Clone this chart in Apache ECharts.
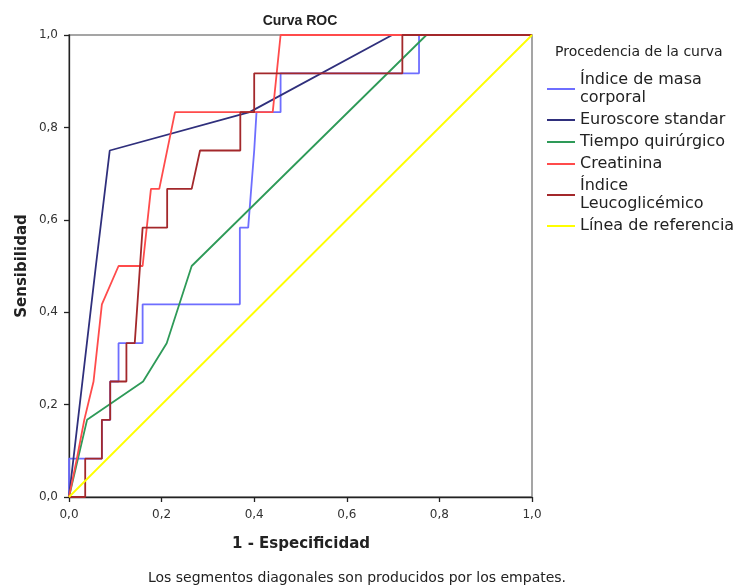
<!DOCTYPE html>
<html>
<head>
<meta charset="utf-8">
<script src="https://cdn.jsdelivr.net/npm/echarts@6/dist/echarts.min.js"></script>
<style>
html,body{margin:0;padding:0;background:#fff;}
#chart{width:738px;height:587px;}
</style>
</head>
<body>
<div id="chart"></div>
<script>
// ---- data (x = 1 - Especificidad, y = Sensibilidad) ----
const seriesNames = ['Índice de masa\ncorporal', 'Euroscore standar', 'Tiempo quirúrgico', 'Creatinina', 'Índice\nLeucoglicémico', 'Línea de referencia'];
const tickValues = [0, 0.2, 0.4, 0.6, 0.8, 1.0];

const imcPts = [[0,0],[0,0.083],[0.071,0.083],[0.071,0.167],[0.089,0.167],[0.089,0.25],[0.107,0.25],[0.107,0.333],[0.159,0.333],[0.159,0.417],[0.369,0.417],[0.369,0.583],[0.387,0.583],[0.400,0.75],[0.405,0.833],[0.457,0.833],[0.457,0.917],[0.756,0.917],[0.756,1.0],[1,1]];
const euroPts = [[0,0],[0.058,0.5],[0.088,0.75],[0.39,0.833],[0.698,1.0],[1,1]];
const tiempoPts = [[0,0],[0.039,0.167],[0.16,0.25],[0.211,0.333],[0.265,0.5],[0.772,1.0],[1,1]];
const creatPts = [[0,0],[0.017,0.083],[0.033,0.167],[0.053,0.25],[0.071,0.417],[0.107,0.5],[0.159,0.5],[0.177,0.667],[0.195,0.667],[0.229,0.833],[0.44,0.833],[0.457,1.0],[1,1]];
const leucoPts = [[0,0],[0.035,0],[0.035,0.083],[0.071,0.083],[0.071,0.167],[0.089,0.167],[0.089,0.25],[0.124,0.25],[0.124,0.333],[0.142,0.333],[0.159,0.583],[0.212,0.583],[0.212,0.667],[0.265,0.667],[0.283,0.75],[0.37,0.75],[0.37,0.833],[0.40,0.833],[0.40,0.917],[0.72,0.917],[0.72,1.0],[1,1]];
const refPts = [[0,0],[1,1]];

const colors = ['#6e6eff', '#2f2f7c', '#2e9a58', '#ff4b4b', '#a3282b', '#ffff00'];
const allPts = [imcPts, euroPts, tiempoPts, creatPts, leucoPts, refPts];

const FONT = '"DejaVu Sans", sans-serif';
const fmt = v => v.toFixed(1).replace('.', ',');

const chart = echarts.init(document.getElementById('chart'), null, {renderer: 'canvas'});
const axisCommon = {
  type: 'value', min: 0, max: 1, interval: 0.2,
  axisLine: {show: true, lineStyle: {color: '#222', width: 1.3}},
  axisTick: {show: true, length: 5, inside: false, lineStyle: {color: '#222', width: 1.3}},
  axisLabel: {formatter: fmt, color: '#333', fontFamily: FONT, fontSize: 12},
  splitLine: {show: false}
};

chart.setOption({
  animation: false,
  backgroundColor: '#fff',
  color: colors,
  grid: {left: 69, right: 206, top: 35, bottom: 90, show: true, borderColor: '#888', borderWidth: 1.5, backgroundColor: 'transparent'},
  xAxis: Object.assign({}, axisCommon, {axisLabel: Object.assign({}, axisCommon.axisLabel, {margin: 12})}),
  yAxis: Object.assign({}, axisCommon, {axisLabel: Object.assign({}, axisCommon.axisLabel, {margin: 11})}),
  legend: {
    orient: 'vertical', left: 547, top: 71, padding: 0,
    icon: 'rect', itemWidth: 28, itemHeight: 2, itemGap: 4,
    textStyle: {fontFamily: FONT, fontSize: 16, color: '#222', lineHeight: 18},
    data: seriesNames
  },
  series: seriesNames.map((n, i) => ({
    name: n, type: 'line', data: allPts[i], symbol: 'none', showSymbol: false,
    lineStyle: {color: colors[i], width: 1.8}, itemStyle: {color: colors[i]},
    silent: true, z: 2 + i
  })),
  graphic: [
    {type: 'text', x: 300, y: 21, style: {text: 'Curva ROC', font: 'bold 14px "Liberation Sans", Arial, sans-serif', fill: '#222', textAlign: 'center', textVerticalAlign: 'middle'}},
    {type: 'text', x: 555, y: 52, style: {text: 'Procedencia de la curva', font: '14px ' + FONT, fill: '#222', textAlign: 'left', textVerticalAlign: 'middle'}},
    {type: 'text', x: 301, y: 544, style: {text: '1 - Especificidad', font: 'bold 15px ' + FONT, fill: '#222', textAlign: 'center', textVerticalAlign: 'middle'}},
    {type: 'text', x: 22, y: 266, rotation: Math.PI / 2, style: {text: 'Sensibilidad', font: 'bold 15px ' + FONT, fill: '#222', textAlign: 'center', textVerticalAlign: 'middle'}},
    {type: 'text', x: 357, y: 578, style: {text: 'Los segmentos diagonales son producidos por los empates.', font: '14px ' + FONT, fill: '#222', textAlign: 'center', textVerticalAlign: 'middle'}}
  ]
});
</script>
</body>
</html>
